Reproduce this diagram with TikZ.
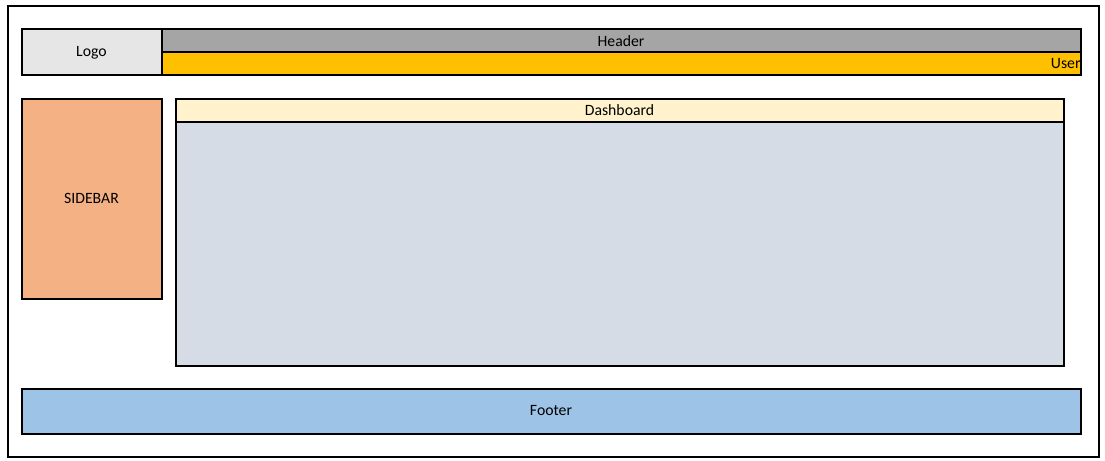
\documentclass[tikz,border=0pt]{standalone}
\usepackage{fontspec}
\setmainfont{Carlito}

\definecolor{logogray}{HTML}{E7E6E6}
\definecolor{headergray}{HTML}{A5A5A5}
\definecolor{useryellow}{HTML}{FFC000}
\definecolor{sidebarorange}{HTML}{F4B183}
\definecolor{dashyellow}{HTML}{FFF2CC}
\definecolor{dashblue}{HTML}{D6DCE5}
\definecolor{footerblue}{HTML}{9DC3E6}

\begin{document}
\begin{tikzpicture}[x=0.75pt,y=-0.75pt]

      \useasboundingbox (0,0) rectangle (1105,460);

      \begin{scope}[every node/.style={draw,line width=1.5pt,inner sep=0pt,
          anchor=north west,font=\fontsize{11.8}{14}\selectfont}]
        \node (frame)     at (6.5,5.5)     [minimum width=818.25pt,minimum height=337.5pt] {};
        \node (logo)      at (20.5,28.5)   [fill=logogray,minimum width=105pt,minimum height=34.5pt] {Logo};
        \node (header)    at (160.5,28.5)  [fill=headergray,minimum width=689.25pt,minimum height=17.25pt] {Header};
        \node (user)      at (160.5,51.5)  [fill=useryellow,text width=689.25pt,align=right,minimum height=17.25pt] {User};
        \node (sidebar)   at (20.5,97.5)   [fill=sidebarorange,minimum width=105pt,minimum height=150pt] {SIDEBAR};
        \node (dashboard) at (174.5,97.5)  [fill=dashyellow,minimum width=666pt,minimum height=17.25pt] {Dashboard};
        \node (content)   at (174.5,120.5) [fill=dashblue,minimum width=666pt,minimum height=183pt] {};
        \node (footer)    at (20.5,387.5)  [fill=footerblue,minimum width=794.25pt,minimum height=33.75pt] {Footer};
      \end{scope}

    \end{tikzpicture}
\end{document}
